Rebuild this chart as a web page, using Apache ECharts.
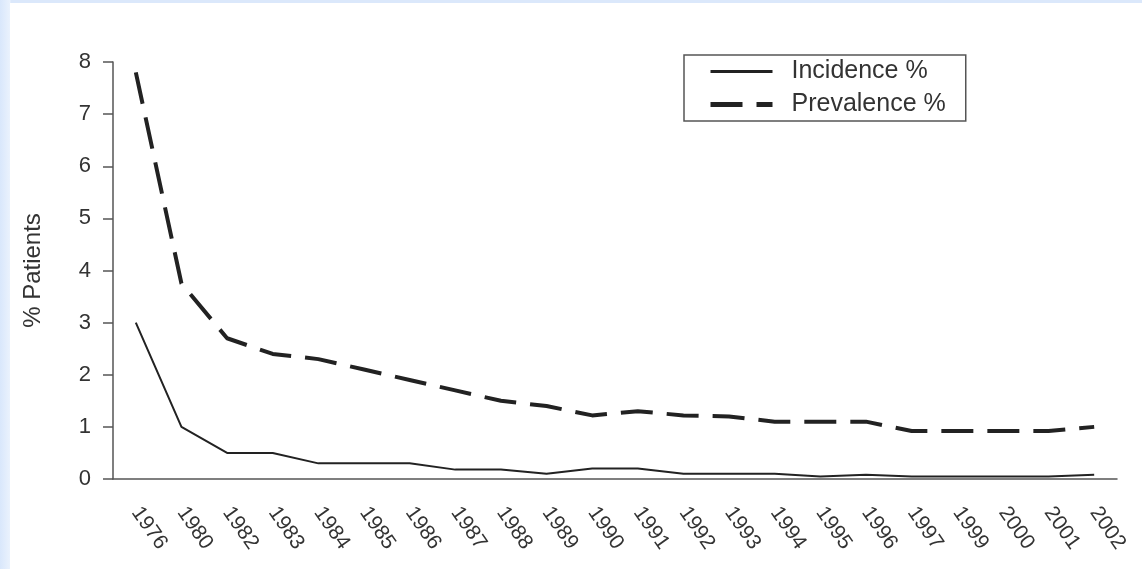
<!DOCTYPE html>
<html>
<head>
<meta charset="utf-8">
<script src="https://cdn.jsdelivr.net/npm/echarts@6/dist/echarts.min.js"></script>
<style>
    html, body { margin: 0; padding: 0; }
    body { width: 1142px; height: 569px; background: linear-gradient(to right, #d9e7fb, #eaf2fd 10px, #dbe8fb 11px); overflow: hidden; }
    #wrap { position: absolute; left: 10px; top: 3px; width: 1132px; height: 566px; background: #fff; }
    #lineChart { width: 1132px; height: 566px; }
</style>
</head>
<body>
<div id="wrap"><div id="lineChart"></div></div>
<script>
var years = ['1976', '1980', '1982', '1983', '1984', '1985', '1986', '1987', '1988', '1989', '1990',
    '1991', '1992', '1993', '1994', '1995', '1996', '1997', '1999', '2000', '2001', '2002'];
var incidence = [3.0, 1.0, 0.5, 0.5, 0.3, 0.3, 0.3, 0.18, 0.18, 0.1, 0.2,
    0.2, 0.1, 0.1, 0.1, 0.05, 0.08, 0.05, 0.05, 0.05, 0.05, 0.08];
var prevalence = [7.8, 3.75, 2.7, 2.4, 2.3, 2.1, 1.9, 1.7, 1.5, 1.4, 1.22,
    1.3, 1.22, 1.2, 1.1, 1.1, 1.1, 0.92, 0.92, 0.92, 0.92, 1.0];
var yTicks = [0, 8, 1];   // min, max, interval

var myChart = echarts.init(document.getElementById('lineChart'));
var axisColor = '#555';
var option = {
    animation: false,
    textStyle: { fontFamily: 'Liberation Sans, Arial, sans-serif' },
    legend: {
        orient: 'vertical',
        left: 674,
        top: 52,
        padding: [4, 20, 4, 24],
        itemWidth: 62,
        itemHeight: 25,
        itemGap: 8,
        borderColor: axisColor,
        borderWidth: 1.5,
        itemStyle: { opacity: 0 },
        textStyle: { fontSize: 25, color: '#333', lineHeight: 25, padding: [0, 0, 0, 14] },
        data: [
            { name: 'Incidence %', lineStyle: { width: 3 } },
            { name: 'Prevalence %', lineStyle: { width: 5 } }
        ]
    },
    grid: { left: 103, right: 25, top: 59, bottom: 90 },
    xAxis: {
        type: 'category',
        data: years,
        axisLine: { lineStyle: { color: axisColor, width: 1.5 } },
        axisTick: { length: 8, lineStyle: { color: axisColor, width: 1.5 } },
        axisLabel: { rotate: -55, fontSize: 21, color: '#333', margin: 30, interval: 0 }
    },
    yAxis: {
        type: 'value',
        min: yTicks[0],
        max: yTicks[1],
        interval: yTicks[2],
        name: '% Patients',
        nameLocation: 'middle',
        nameGap: 68,
        nameTextStyle: { fontSize: 24, color: '#333' },
        splitLine: { show: false },
        axisLine: { show: true, lineStyle: { color: axisColor, width: 1.5 } },
        axisTick: { show: true, length: 10, lineStyle: { color: axisColor, width: 1.5 } },
        axisLabel: { fontSize: 22, color: '#333', margin: 22 }
    },
    series: [
        {
            name: 'Incidence %',
            type: 'line',
            symbol: 'none',
            data: incidence,
            lineStyle: { color: '#222', width: 2 },
            itemStyle: { color: '#222' }
        },
        {
            name: 'Prevalence %',
            type: 'line',
            symbol: 'none',
            data: prevalence,
            lineStyle: { color: '#222', width: 4, type: [32, 14] },
            itemStyle: { color: '#222' }
        }
    ]
};
myChart.setOption(option);
</script>
</body>
</html>
